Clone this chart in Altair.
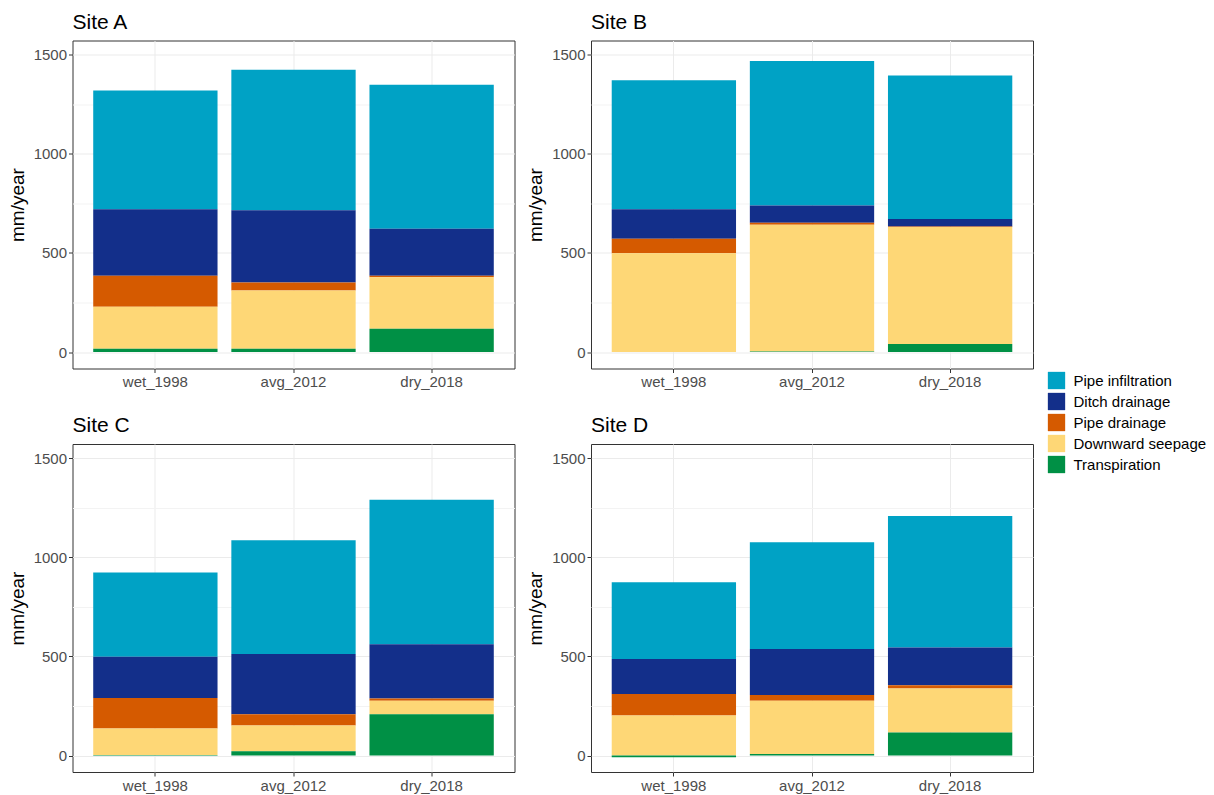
import altair as alt
import pandas as pd

FONT = "Liberation Sans"

sites = ["Site A", "Site B", "Site C", "Site D"]
years = ["wet_1998", "avg_2012", "dry_2018"]

# legend order (top to bottom) and fill colours
components = ["Pipe infiltration", "Ditch drainage", "Pipe drainage",
              "Downward seepage", "Transpiration"]
colors = ["#00A2C5", "#132F8A", "#D55A00", "#FED776", "#009045"]

# annual fluxes in mm/year, per site, in year order wet_1998, avg_2012, dry_2018
pipe_infiltration = {"Site A": [599, 709, 727], "Site B": [651, 728, 725],
                     "Site C": [424, 574, 729], "Site D": [388, 539, 664]}
ditch_drainage = {"Site A": [336, 364, 237], "Site B": [149, 88, 37],
                  "Site C": [208, 303, 274], "Site D": [176, 232, 190]}
pipe_drainage = {"Site A": [156, 40, 8], "Site B": [73, 10, 3],
                 "Site C": [154, 57, 12], "Site D": [109, 29, 17]}
downward_seepage = {"Site A": [212, 294, 259], "Site B": [499, 639, 591],
                    "Site C": [134, 130, 67], "Site D": [202, 268, 222]}
transpiration = {"Site A": [17, 17, 118], "Site B": [0, 3, 40],
                 "Site C": [3, 22, 209], "Site D": [-8, 8, 116]}

series = {
    "Pipe infiltration": pipe_infiltration,
    "Ditch drainage": ditch_drainage,
    "Pipe drainage": pipe_drainage,
    "Downward seepage": downward_seepage,
    "Transpiration": transpiration,
}

rows = []
for comp, by_site in series.items():
    # stacking rank: transpiration at the bottom, pipe infiltration on top
    rank = len(components) - 1 - components.index(comp)
    for site in sites:
        for year, val in zip(years, by_site[site]):
            rows.append({"site": site, "year": year, "component": comp,
                         "value": val, "rank": rank})
df = pd.DataFrame(rows)

major = "datum.value % 500 === 0"


def panel(site):
    return (
        alt.Chart(df)
        .transform_filter(alt.datum.site == site)
        .mark_bar()
        .encode(
            x=alt.X("year:N", sort=years, title=None,
                    scale=alt.Scale(paddingInner=0.1, paddingOuter=0.15),
                    axis=alt.Axis(labelAngle=0, grid=True, gridColor="#EBEBEB",
                                  bandPosition=0.5, domain=False,
                                  tickColor="#333333", tickSize=4,
                                  labelPadding=2, labelFontSize=15,
                                  labelColor="#4D4D4D", labelFont=FONT)),
            y=alt.Y("value:Q", stack="zero", title="mm/year",
                    scale=alt.Scale(domain=[-83, 1572], nice=False, zero=False),
                    axis=alt.Axis(values=[0, 250, 500, 750, 1000, 1250, 1500],
                                  format="d",
                                  labelExpr=f"{major} ? datum.label : ''",
                                  grid=True,
                                  gridColor=alt.condition(major, alt.value("#EBEBEB"), alt.value("#F3F3F3")),
                                  tickOpacity=alt.condition(major, alt.value(1), alt.value(0)),
                                  domain=False, tickColor="#333333", tickSize=4,
                                  labelPadding=2, labelFontSize=15,
                                  labelColor="#4D4D4D", labelFont=FONT,
                                  titleFontSize=19, titleFont=FONT,
                                  titleFontWeight="normal", titleColor="#000000",
                                  titlePadding=6)),
            color=alt.Color("component:N",
                            scale=alt.Scale(domain=components, range=colors),
                            legend=alt.Legend(title=None)),
            order=alt.Order("rank:Q"),
        )
        .properties(
            width=442, height=328,
            title=alt.TitleParams(site, anchor="start", frame="group",
                                  fontSize=21, font=FONT,
                                  fontWeight="normal", color="#000000", offset=8),
        )
    )


top = alt.hconcat(panel("Site A"), panel("Site B"), spacing=10.5)
bottom = alt.hconcat(panel("Site C"), panel("Site D"), spacing=10.5)

chart = (
    alt.vconcat(top, bottom, spacing=23.5)
    .properties(padding={"left": 7.5, "top": 10.5, "right": 5, "bottom": 5},
                background="white")
    .configure_view(stroke="#333333", strokeWidth=1)
    .configure_legend(orient="none", legendX=975, legendY=331,
                      symbolType="square", symbolSize=300,
                      symbolStrokeWidth=0, labelFontSize=15, labelFont=FONT,
                      labelColor="#000000", rowPadding=3, labelOffset=8)
)

chart.save("out.html", embed_options={"renderer": "svg", "actions": False})
